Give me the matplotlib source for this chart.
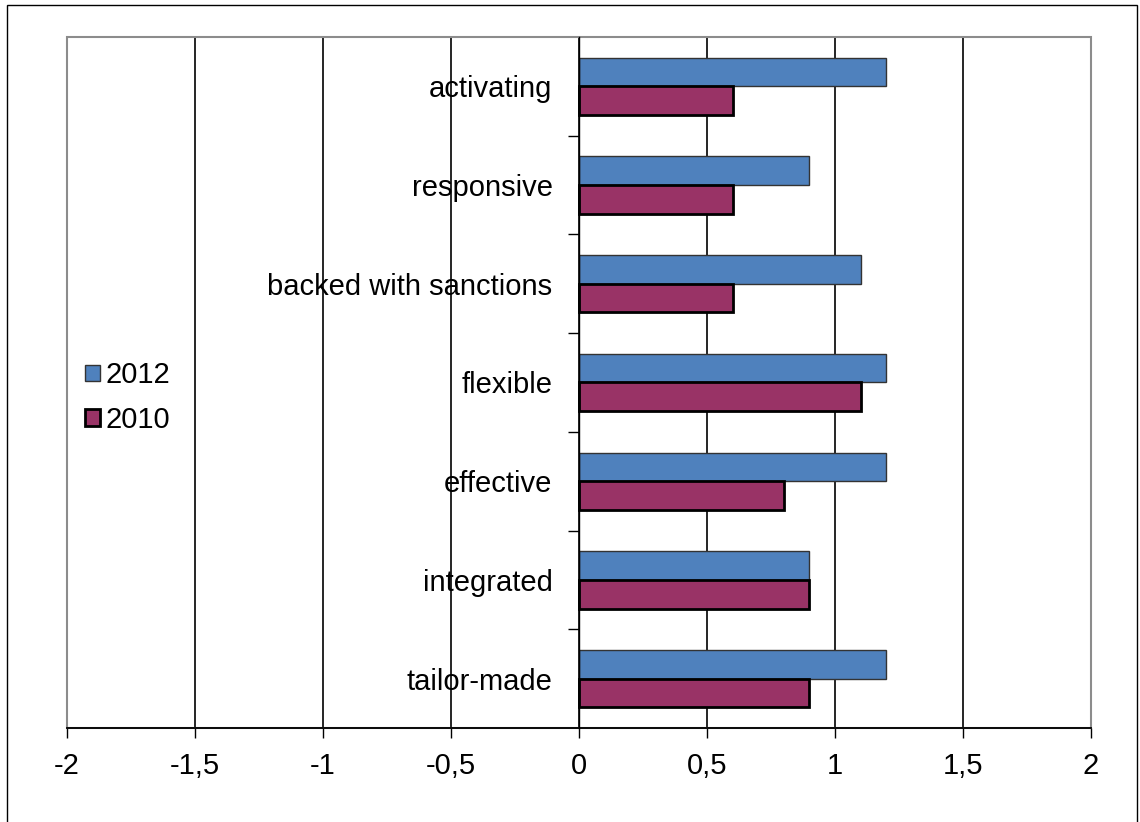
import matplotlib
matplotlib.use("Agg")
import matplotlib.pyplot as plt
import numpy as np
from matplotlib.patches import Rectangle
from matplotlib.ticker import FuncFormatter, MultipleLocator

plt.rcParams["font.family"] = ["Liberation Sans", "DejaVu Sans"]

categories = ["activating", "responsive", "backed with sanctions", "flexible",
              "effective", "integrated", "tailor-made"]
values_2012 = [1.2, 0.9, 1.1, 1.2, 1.2, 0.9, 1.2]
values_2010 = [0.6, 0.6, 0.6, 1.1, 0.8, 0.9, 0.9]

BLUE = "#4F81BD"
WINE = "#993366"
FS = 21

fig = plt.figure(figsize=(11.4, 8.22), dpi=100)
ax = fig.add_axes([0.0588, 0.1144, 0.8982, 0.8406])

n = len(categories)
y = np.arange(n)[::-1].astype(float)
h = 0.29
ax.barh(y + h / 2, values_2012, height=h, color=BLUE, edgecolor="#333333",
        linewidth=1.0, label="2012", zorder=3)
ax.barh(y - h / 2, values_2010, height=h, color=WINE, edgecolor="black",
        linewidth=2.0, label="2010", zorder=3)

ax.set_xlim(-2, 2)
ax.set_ylim(-0.5, n - 0.5)
ax.xaxis.set_major_locator(MultipleLocator(0.5))
ax.xaxis.set_major_formatter(FuncFormatter(lambda v, _: f"{v:g}".replace(".", ",")))
ax.grid(True, axis="x", color="black", linewidth=1.2, zorder=0)
ax.set_axisbelow(True)

# y axis sits at x = 0
ax.spines["left"].set_position(("data", 0))
ax.spines["left"].set_color("black")
ax.spines["left"].set_linewidth(1.0)
ax.spines["left"].set_zorder(4)
for s in ("top", "right"):
    ax.spines[s].set_visible(False)
ax.spines["bottom"].set_color("black")
ax.spines["bottom"].set_linewidth(1.3)
ax.add_patch(Rectangle((0, 0), 1, 1, transform=ax.transAxes, fill=False,
                       edgecolor="#8c8c8c", linewidth=1.5, zorder=1, clip_on=False))

ax.set_yticks(y)
ax.set_yticklabels(categories)
ax.set_yticks(np.arange(n - 1) + 0.5, minor=True)
ax.tick_params(axis="y", which="major", length=0, pad=19, labelsize=FS)
ax.tick_params(axis="y", which="minor", length=8, width=1.0, direction="out")
ax.tick_params(axis="x", length=7, width=1.0, direction="out", labelsize=FS, pad=10)

ax.legend(loc="center left", bbox_to_anchor=(-0.008, 0.478), frameon=False,
          fontsize=FS, handlelength=0.5, handleheight=0.5, handletextpad=0.2,
          labelspacing=0.58)

fig.add_artist(Rectangle((7 / 1140, -0.01), 1130 / 1140, 1 - 5 / 822 + 0.01,
                         transform=fig.transFigure, fill=False,
                         edgecolor="black", linewidth=1.0))

fig.savefig("out.png", dpi=100)
